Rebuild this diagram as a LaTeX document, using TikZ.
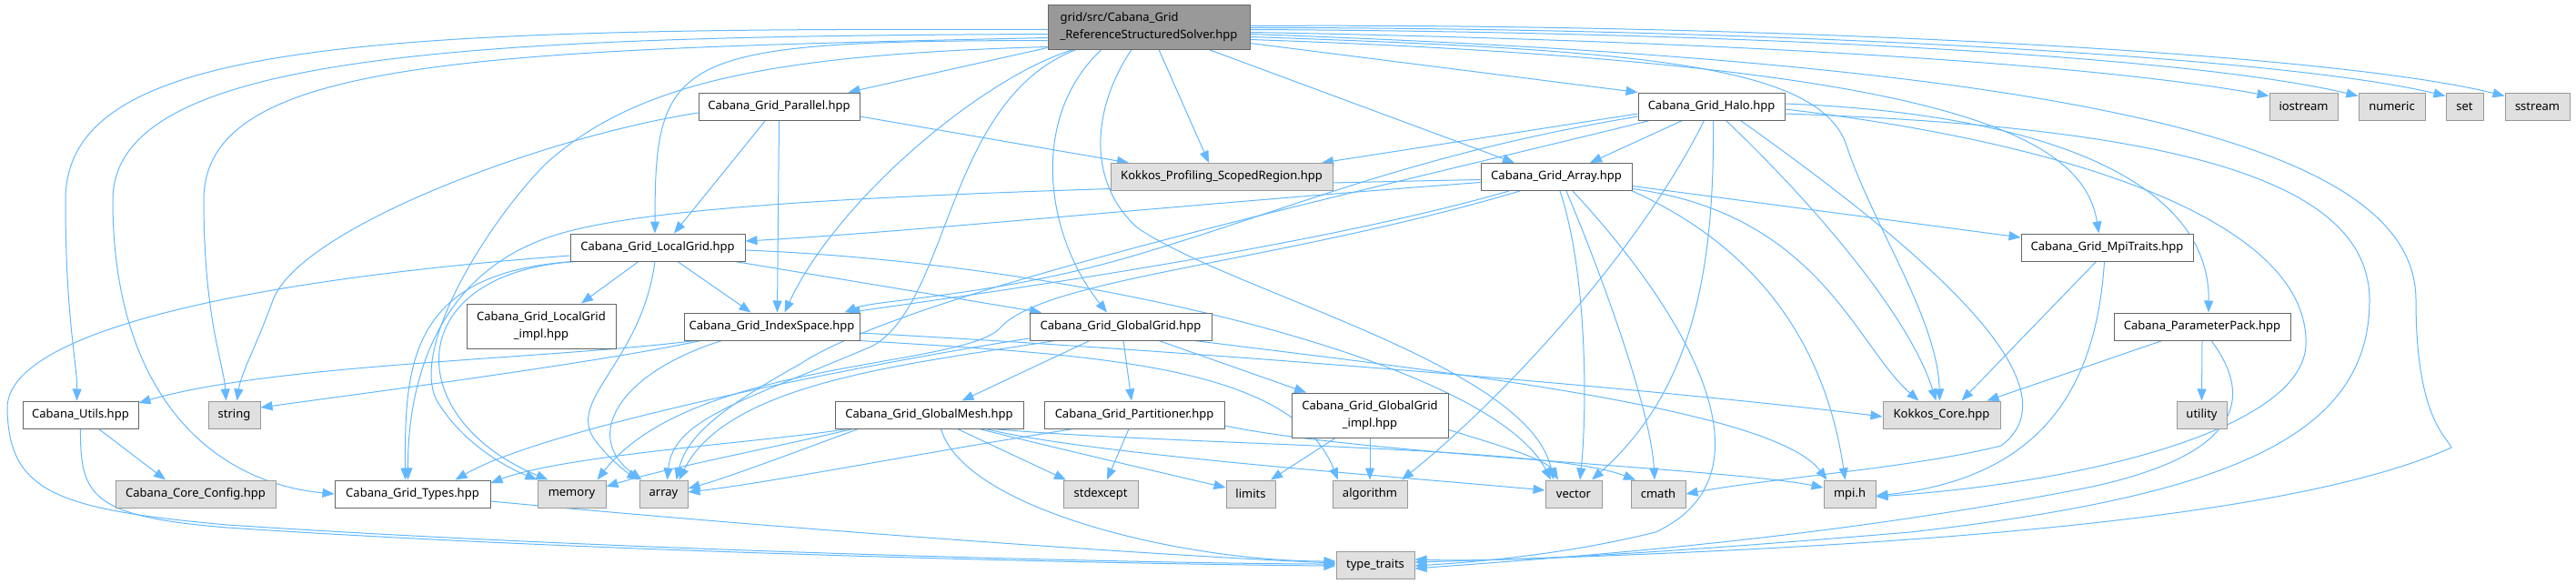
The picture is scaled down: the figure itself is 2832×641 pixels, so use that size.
\documentclass[tikz,border=0pt]{standalone}
\usepackage{fontspec}
\setmainfont{Noto Sans}
\usetikzlibrary{arrows.meta}
\definecolor{edgec}{HTML}{63B8FF}
\definecolor{bordw}{HTML}{666666}
\definecolor{bordg}{HTML}{999999}
\definecolor{fillg}{HTML}{E0E0E0}
\definecolor{fillr}{HTML}{999999}
\pgfdeclarelayer{bg}
\pgfsetlayers{bg,main}
\begin{document}
\begin{tikzpicture}[x=1pt,y=-1pt,
  base/.style={inner sep=0pt, line width=1pt, minimum height=30pt, text=black, font=\fontsize{13}{18.5}\selectfont},
  wbox/.style={base, draw=bordw, fill=white},
  gbox/.style={base, draw=bordg, fill=fillg},
  rbox/.style={base, draw=bordw, fill=fillr},
  e/.style={draw=edgec, line width=1pt, -{Triangle[length=13pt,width=10pt]}}]
\useasboundingbox (0,0) rectangle (2832,641);
% nodes
\node[rbox, minimum width=222, minimum height=49, align=left] (R) at (1263,29.5) {grid/src/Cabana\_Grid\\\_ReferenceStructuredSolver.hpp};
\node[wbox, minimum width=177] (P) at (856.5,117) {Cabana\_Grid\_Parallel.hpp};
\node[wbox, minimum width=161] (H) at (1881.5,117) {Cabana\_Grid\_Halo.hpp};
\node[gbox, minimum width=75] (iostream) at (2532.5,117) {iostream};
\node[gbox, minimum width=73] (numeric) at (2629.5,117) {numeric};
\node[gbox, minimum width=41] (set) at (2709.5,117) {set};
\node[gbox, minimum width=71] (sstream) at (2789.5,117) {sstream};
\node[gbox, minimum width=244] (KPSR) at (1343,194.5) {Kokkos\_Profiling\_ScopedRegion.hpp};
\node[wbox, minimum width=166] (A) at (1711,194.5) {Cabana\_Grid\_Array.hpp};
\node[wbox, minimum width=192] (LG) at (723,272) {Cabana\_Grid\_LocalGrid.hpp};
\node[wbox, minimum width=189] (MT) at (2316.5,272) {Cabana\_Grid\_MpiTraits.hpp};
\node[wbox, minimum width=164, minimum height=49, align=center] (LGimpl) at (595,358.5) {Cabana\_Grid\_LocalGrid\\\_impl.hpp};
\node[wbox, minimum width=193] (IS) at (848.5,359) {Cabana\_Grid\_IndexSpace.hpp};
\node[wbox, minimum width=200] (GG) at (1232,359) {Cabana\_Grid\_GlobalGrid.hpp};
\node[wbox, minimum width=194] (PP) at (2421,359) {Cabana\_ParameterPack.hpp};
\node[wbox, minimum width=127] (Utils) at (88.5,456) {Cabana\_Utils.hpp};
\node[gbox, minimum width=57] (string) at (257.5,456) {string};
\node[wbox, minimum width=207] (GM) at (1021.5,456) {Cabana\_Grid\_GlobalMesh.hpp};
\node[wbox, minimum width=198] (Part) at (1247,456) {Cabana\_Grid\_Partitioner.hpp};
\node[wbox, minimum width=172, minimum height=49, align=center] (GGimpl) at (1506,456.5) {Cabana\_Grid\_GlobalGrid\\\_impl.hpp};
\node[gbox, minimum width=129] (KC) at (2134.5,456) {Kokkos\_Core.hpp};
\node[gbox, minimum width=55] (utility) at (2420.5,456) {utility};
\node[gbox, minimum width=176] (CCC) at (215,543) {Cabana\_Core\_Config.hpp};
\node[wbox, minimum width=171] (Types) at (453.5,543) {Cabana\_Grid\_Types.hpp};
\node[gbox, minimum width=75] (memory) at (628.5,543) {memory};
\node[gbox, minimum width=53] (array) at (729.5,543) {array};
\node[gbox, minimum width=82] (stdexcept) at (1210,543) {stdexcept};
\node[gbox, minimum width=54] (limits) at (1375,543) {limits};
\node[gbox, minimum width=82] (algorithm) at (1506,543) {algorithm};
\node[gbox, minimum width=62] (vector) at (1730,543) {vector};
\node[gbox, minimum width=60] (cmath) at (1823,543) {cmath};
\node[gbox, minimum width=57] (mpi) at (2033.5,543) {mpi.h};
\node[gbox, minimum width=86] (tt) at (1512,621) {type\_traits};
\begin{pgfonlayer}{bg}
% root
\draw[e] ([yshift=2]R.south west) -- ([xshift=76]P.north);
\draw[e] ([yshift=7]R.south east) -- (H.north west);
\draw[e] ([xshift=11]R.south) -- ([xshift=-14]KPSR.north);
\draw[e] ([xshift=66]R.south) -- ([xshift=-46]A.north);
\draw[e] ([yshift=-15]R.west) .. controls (740,45) and (720,60) .. ([xshift=-3]LG.north);
\draw[e] ([xshift=-83]R.south) .. controls (1080,85) and (920,220) .. ([xshift=14]IS.north);
\draw[e] ([xshift=-52]R.south) .. controls (1130,130) and (1150,260) .. ([xshift=-15]GG.north);
\draw[e] ([yshift=-14]R.east) .. controls (2150,70) and (2290,150) .. ([xshift=-9]MT.north);
\draw[e] ([yshift=-11]R.east) .. controls (1800,55) and (2000,70) .. (2030,160) .. controls (2060,250) and (2130,350) .. ([xshift=-2]KC.north);
\draw[e] ([yshift=-8]R.west) .. controls (500,40) and (124,60) .. (124,220) .. controls (124,430) and (230,530) .. (Types.west);
\draw[e] ([yshift=-3]R.west) .. controls (400,30) and (72,45) .. (72,220) .. controls (72,350) and (85,400) .. ([xshift=-4]Utils.north);
\draw[e] ([yshift=-12]R.west) .. controls (520,55) and (224,65) .. (224,220) .. controls (224,350) and (246,400) .. ([xshift=-9]string.north);
\draw[e] ([yshift=-22]R.west) .. controls (850,60) and (700,90) .. (600,180) .. controls (540,240) and (450,380) .. (480,440) .. controls (510,490) and (560,515) .. (memory.north west);
\draw[e] ([xshift=-80]R.south) .. controls (1040,110) and (1045,330) .. (960,380) .. controls (820,440) and (740,460) .. ([xshift=4]array.north);
\draw[e] ([xshift=-19]R.south) .. controls (1200,120) and (1195,200) .. (1250,250) .. controls (1350,320) and (1680,400) .. ([xshift=-22]vector.north);
\draw[e] ([yshift=-8]R.east) .. controls (2300,70) and (2656,160) .. (2656,330) .. controls (2656,460) and (2690,480) .. (2695,492) .. controls (2500,580) and (2000,605) .. ([yshift=3]tt.east);
\draw[e] ([yshift=-6]R.east) .. controls (1900,45) and (2300,70) .. ([yshift=-4]iostream.north west);
\draw[e] ([yshift=-3]R.east) .. controls (1900,35) and (2400,60) .. ([yshift=-4]numeric.north west);
\draw[e] ([yshift=-1]R.east) .. controls (1900,30) and (2500,60) .. ([yshift=-4]set.north west);
\draw[e] ([yshift=1]R.east) .. controls (1900,25) and (2550,55) .. ([yshift=-4]sstream.north west);
% Parallel
\draw[e] ([xshift=-15]P.south) -- ([xshift=18]LG.north);
\draw[e] (P.south) -- ([xshift=6]IS.north);
\draw[e] ([yshift=-11]P.east) -- ([xshift=-102]KPSR.north);
\draw[e] ([yshift=-7]P.west) .. controls (600,150) and (330,250) .. (300,330) .. controls (282,380) and (265,410) .. ([xshift=3]string.north);
% Halo
\draw[e] ([xshift=-32]H.south) -- ([xshift=37]A.north);
\draw[e] ([yshift=-8]H.west) -- ([xshift=110]KPSR.north);
\draw[e] ([yshift=-11]H.west) .. controls (1550,170) and (1420,230) .. (1250,280) .. controls (1100,325) and (960,330) .. ([xshift=80]IS.north);
\draw[e] ([xshift=-68]H.south) .. controls (1500,210) and (1000,320) .. (880,400) .. controls (790,450) and (755,480) .. ([xshift=14]array.north);
\draw[e] ([xshift=16]H.south) .. controls (2000,230) and (2100,350) .. ([xshift=-6]KC.north);
\draw[e] ([xshift=-8]H.south) .. controls (1800,280) and (1650,440) .. ([xshift=35]algorithm.north);
\draw[e] ([xshift=2]H.south) .. controls (1885,300) and (1860,430) .. ([xshift=20]vector.north);
\draw[e] ([xshift=32]H.south) .. controls (2150,300) and (2280,430) .. (2200,490) .. controls (2100,515) and (1950,525) .. (cmath.east);
\draw[e] ([yshift=3]H.east) .. controls (2250,125) and (2430,200) .. ([xshift=7]PP.north);
\draw[e] ([yshift=-3]H.east) .. controls (2300,160) and (2540,250) .. (2535,380) .. controls (2530,470) and (2300,530) .. ([yshift=-3]mpi.east);
\draw[e] ([yshift=-8]H.east) .. controls (2400,140) and (2605,200) .. (2605,330) .. controls (2605,480) and (2450,545) .. (2100,585) .. controls (1800,610) and (1650,618) .. ([yshift=6]tt.east);
% Array
\draw[e] ([yshift=-6]A.west) .. controls (1300,225) and (1000,255) .. ([yshift=7]LG.east);
\draw[e] ([yshift=-3]A.west) .. controls (1000,210) and (700,225) .. (600,262) .. controls (480,305) and (448,420) .. ([xshift=-5]Types.north);
\draw[e] ([xshift=-52]A.south) .. controls (1450,270) and (1100,320) .. ([xshift=84]IS.north);
\draw[e] ([xshift=-40]A.south) .. controls (1400,290) and (1150,305) .. (1100,360) .. controls (1060,405) and (760,395) .. ([xshift=28]memory.north);
\draw[e] ([yshift=-10]A.east) -- ([yshift=11]MT.west);
\draw[e] ([yshift=-13]A.east) .. controls (2000,235) and (2040,380) .. ([xshift=-25]KC.north);
\draw[e] (A.south east) .. controls (1950,280) and (2010,400) .. ([xshift=-5]mpi.north);
\draw[e] ([xshift=4]A.south) .. controls (1745,300) and (1745,450) .. ([xshift=7]vector.north);
\draw[e] ([xshift=11]A.south) .. controls (1760,300) and (1815,450) .. ([xshift=-4]cmath.north);
\draw[e] ([xshift=18]A.south) .. controls (1850,340) and (1960,520) .. (1820,585) .. controls (1720,610) and (1620,618) .. ([yshift=-1]tt.east);
% LocalGrid
\draw[e] ([xshift=85]LG.south) -- ([xshift=-87]GG.north);
\draw[e] ([xshift=22]LG.south) -- ([xshift=-23]IS.north);
\draw[e] ([xshift=-21]LG.south) -- ([xshift=44]LGimpl.north);
\draw[e] ([xshift=-93]LG.south) .. controls (450,300) and (445,400) .. ([xshift=-8]Types.north);
\draw[e] ([xshift=-90]LG.south) .. controls (440,300) and (440,460) .. ([xshift=-26]memory.north);
\draw[e] ([xshift=-3]LG.south) .. controls (705,400) and (620,440) .. (655,485) .. controls (670,505) and (690,520) .. (array.north west);
\draw[e] ([yshift=-3]LG.east) .. controls (1200,290) and (1640,400) .. ([xshift=-25]vector.north);
\draw[e] ([yshift=-9]LG.west) .. controls (300,305) and (5,360) .. (8,450) .. controls (10,540) and (60,560) .. (250,577) .. controls (700,607) and (1300,620) .. ([yshift=1]tt.west);
% IndexSpace
\draw[e] ([xshift=-84]IS.south) .. controls (600,395) and (300,400) .. ([yshift=13]Utils.east);
\draw[e] ([xshift=-78]IS.south) .. controls (650,400) and (380,435) .. ([yshift=8]string.east);
\draw[e] ([xshift=-55]IS.south) .. controls (680,410) and (640,480) .. ([xshift=-24]array.north);
\draw[e] ([yshift=-7]IS.east) .. controls (1300,385) and (1800,425) .. ([yshift=-2]KC.west);
\draw[e] (IS.south east) .. controls (1200,390) and (1420,400) .. ([xshift=-35]algorithm.north);
% GlobalGrid
\draw[e] ([xshift=-34]GG.south) -- ([xshift=36]GM.north);
\draw[e] ([xshift=3]GG.south) -- ([xshift=-3]Part.north);
\draw[e] ([xshift=42]GG.south) -- ([xshift=-70]GGimpl.north);
\draw[e] ([yshift=-13]GG.west) .. controls (950,400) and (600,470) .. ([xshift=47]Types.north);
\draw[e] ([xshift=-72]GG.south) .. controls (1000,400) and (800,420) .. ([xshift=17]array.north);
\draw[e] ([xshift=81]GG.south) .. controls (1600,410) and (1950,450) .. ([xshift=-25]mpi.north);
% GlobalMesh
\draw[e] ([xshift=-90]GM.south) .. controls (850,485) and (620,500) .. ([yshift=12]Types.east);
\draw[e] ([xshift=-84]GM.south) .. controls (860,490) and (730,515) .. ([yshift=8]memory.east);
\draw[e] ([xshift=-78]GM.south) .. controls (880,495) and (800,525) .. ([yshift=6]array.east);
\draw[e] ([xshift=31]GM.south) -- ([xshift=-38]stdexcept.north);
\draw[e] ([xshift=55]GM.south) .. controls (1150,490) and (1300,525) .. ([yshift=7]limits.west);
\draw[e] ([xshift=62]GM.south) .. controls (1200,500) and (1550,525) .. ([yshift=4]vector.west);
\draw[e] ([xshift=70]GM.south) .. controls (1300,490) and (1700,490) .. ([xshift=-25]cmath.north);
\draw[e] ([xshift=13]GM.south) .. controls (1060,560) and (1300,617) .. ([yshift=4]tt.west);
% Partitioner
\draw[e] ([xshift=-6]Part.south) -- ([xshift=7]stdexcept.north);
\draw[e] ([xshift=-67]Part.south) .. controls (1000,500) and (850,530) .. ([yshift=2]array.east);
\draw[e] ([yshift=-12]Part.east) .. controls (1500,500) and (1900,515) .. ([yshift=7]mpi.west);
% GlobalGrid_impl
\draw[e] ([xshift=-38]GGimpl.south) -- ([xshift=22]limits.north);
\draw[e] (GGimpl.south) -- (algorithm.north);
\draw[e] ([yshift=-16]GGimpl.east) .. controls (1650,490) and (1700,505) .. ([xshift=-17]vector.north);
% Utils, Types
\draw[e] ([xshift=20]Utils.south) -- ([xshift=-33]CCC.north);
\draw[e] (Utils.south) .. controls (88,545) and (100,568) .. (250,580) .. controls (700,610) and (1300,621) .. ([yshift=-1]tt.west);
\draw[e] ([yshift=-8]Types.east) .. controls (900,585) and (1300,612) .. ([yshift=2]tt.west);
% MpiTraits, ParameterPack
\draw[e] ([xshift=-12]MT.south) -- ([xshift=22]KC.north);
\draw[e] ([xshift=-3]MT.south) .. controls (2305,420) and (2250,525) .. ([yshift=-2]mpi.east);
\draw[e] ([xshift=-44]PP.south) -- ([xshift=50]KC.north);
\draw[e] (PP.south) -- (utility.north);
\draw[e] ([xshift=10]PP.south) .. controls (2480,440) and (2460,500) .. (2300,535) .. controls (2000,595) and (1700,614) .. ([yshift=-4]tt.east);
\end{pgfonlayer}
\end{tikzpicture}
\end{document}
